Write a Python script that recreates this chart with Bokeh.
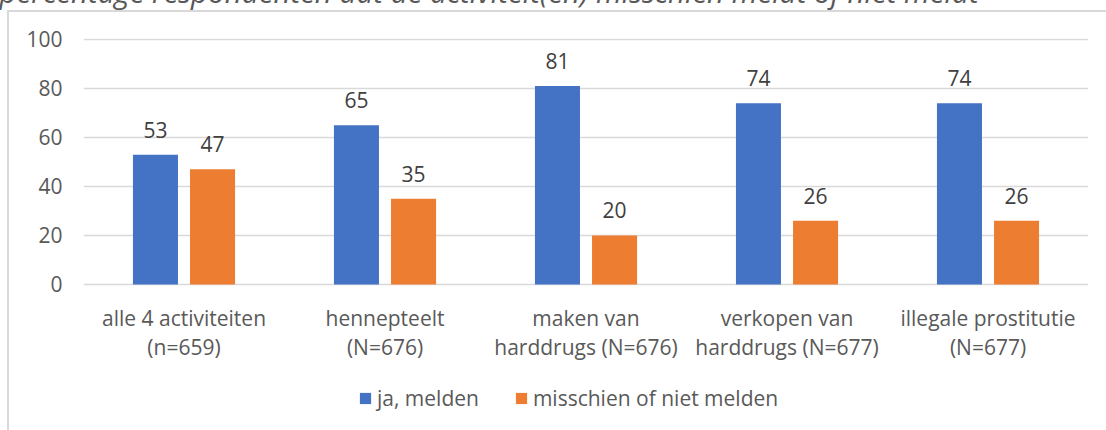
from bokeh.plotting import figure
from bokeh.models import (ColumnDataSource, LabelSet, Legend, LegendItem,
                          Range1d, FactorRange, FixedTicker)
from bokeh.transform import dodge
from bokeh.core.properties import value
from bokeh.embed import file_html
from bokeh.resources import INLINE

categories = ["alle 4 activiteiten", "hennepteelt", "maken van harddrugs",
              "verkopen van harddrugs", "illegale prostitutie"]
cat_line1 = ["alle 4 activiteiten", "hennepteelt", "maken van", "verkopen van",
             "illegale prostitutie"]
cat_line2 = ["(n=659)", "(N=676)", "harddrugs (N=676)", "harddrugs (N=677)", "(N=677)"]
ja_melden = [53, 65, 81, 74, 74]
misschien_niet = [47, 35, 20, 26, 26]
series_names = ["ja, melden", "misschien of niet melden"]
y_ticks = [0, 20, 40, 60, 80, 100]
title_text = "percentage respondenten dat de activiteit(en) misschien meldt of niet meldt"

FONT = "Open Sans"
BLUE = "#4472C4"
ORANGE = "#ED7D31"
GRID = "#D9D9D9"
TXT = "#595959"
SHIFT = 60

src = ColumnDataSource(dict(
    cat=categories, l1=cat_line1, l2=cat_line2, ja=ja_melden, nee=misschien_niet,
    ja_t=[str(v) for v in ja_melden], nee_t=[str(v) for v in misschien_niet],
))

p = figure(width=1106, height=430 + SHIFT, x_range=FactorRange(*categories, range_padding=0),
           y_range=Range1d(-59.6, 100.4), output_backend="svg", toolbar_location=None,
           min_border_left=83, min_border_right=18, min_border_top=38 + SHIFT,
           min_border_bottom=0)
line_bg = "linear-gradient(#d9d9d9,#d9d9d9)"
p.styles = {
    "margin-top": f"-{SHIFT}px",
    "background": f"{line_bg} 7px {10 + SHIFT}px / 2px 100% no-repeat, "
                  f"{line_bg} 7px {10 + SHIFT}px / 100% 2px no-repeat, white",
}
p.outline_line_color = None
p.background_fill_color = "white"
p.border_fill_alpha = 0

p.title.text = title_text
p.title.align = "left"
p.title.offset = -84
p.title.standoff = 53
p.title.text_font = FONT
p.title.text_font_size = "29.5px"
p.title.text_font_style = "italic"
p.title.text_color = TXT

r_ja = p.vbar(x=dodge("cat", -0.142, range=p.x_range), top="ja", width=0.224, bottom=0,
              source=src, fill_color=BLUE, line_color=None)
r_nee = p.vbar(x=dodge("cat", 0.142, range=p.x_range), top="nee", width=0.224, bottom=0,
               source=src, fill_color=ORANGE, line_color=None)

p.xaxis.visible = False
p.xgrid.visible = False
p.ygrid.grid_line_color = GRID
p.ygrid.grid_line_width = 1.5
p.ygrid.level = "underlay"

ya = p.yaxis[0]
ya.ticker = FixedTicker(ticks=y_ticks)
ya.bounds = (0, 100)
ya.axis_line_color = None
ya.major_tick_line_color = None
ya.minor_tick_line_color = None
ya.major_label_text_font = FONT
ya.major_label_text_font_size = "21px"
ya.major_label_text_color = TXT
ya.major_label_standoff = 15

for col, xo, top in (("ja_t", -0.142, "ja"), ("nee_t", 0.142, "nee")):
    p.add_layout(LabelSet(x=dodge("cat", xo, range=p.x_range), y=top, text=col, source=src,
                          y_offset=17, text_align="center", text_baseline="alphabetic",
                          text_font=value(FONT), text_font_size="21px", text_color="#404040"))

for col, yo in (("l1", -34), ("l2", -63)):
    p.add_layout(LabelSet(x="cat", y=0, text=col, source=src, y_offset=yo,
                          text_align="center", text_baseline="middle",
                          text_font=value(FONT), text_font_size="21px", text_color=TXT))

legend = Legend(items=[LegendItem(label=series_names[0], renderers=[r_ja]),
                       LegendItem(label=series_names[1], renderers=[r_nee])],
                orientation="horizontal", location=(275, 18),
                glyph_width=14, glyph_height=14, label_standoff=5, spacing=35,
                padding=0, margin=0, border_line_color=None, background_fill_alpha=0,
                label_text_font=FONT, label_text_font_size="21px", label_text_color=TXT)
p.add_layout(legend, "center")

open("out.html", "w").write(file_html(p, INLINE))
